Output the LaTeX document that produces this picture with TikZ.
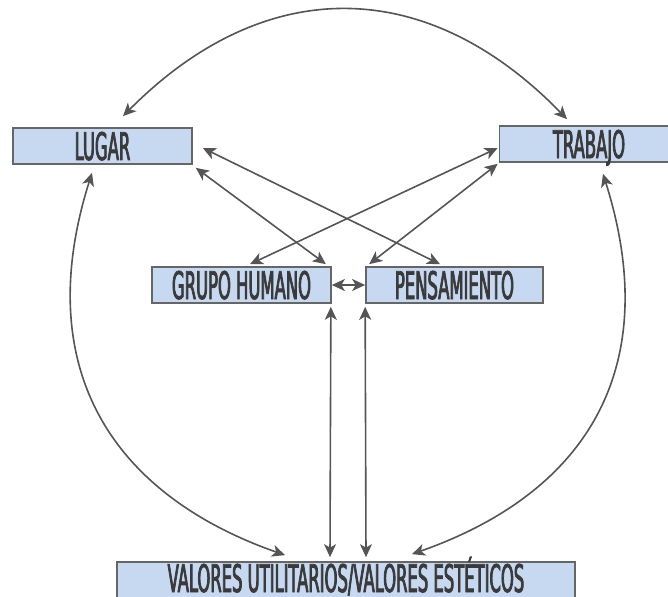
\documentclass[tikz,border=0pt]{standalone}
\usepackage{fontspec}
\setmainfont[FakeStretch=0.48,FakeBold=2]{DejaVu Sans Condensed}
\usetikzlibrary{arrows.meta}
\definecolor{boxfill}{HTML}{C6D9F1}
\definecolor{boxline}{HTML}{666666}
\definecolor{linkcol}{HTML}{555555}
\definecolor{txtcol}{HTML}{3A3A3A}
\begin{document}
\begin{tikzpicture}[x=1pt,y=-1pt,
  conceptbox/.style={draw=boxline, line width=1.7pt, fill=boxfill,
    minimum height=36pt, inner sep=0pt, text=txtcol,
    font=\fontsize{38}{38}\selectfont, text height=28pt, text depth=0pt},
  link/.style={draw=linkcol, line width=1.6pt,
    {Stealth[length=13pt,width=12pt,inset=3.5pt]}-{Stealth[length=13pt,width=12pt,inset=3.5pt]}}]
\useasboundingbox (0,0) rectangle (668,596);

% concept boxes
\node[conceptbox, minimum width=179pt] (lugar) at (102.5,146) {LUGAR};
\node[conceptbox, minimum width=179pt] (trabajo) at (589,144) {TRABAJO};
\node[conceptbox, minimum width=179pt] (grupo) at (241.5,285) {GRUPO HUMANO};
\node[conceptbox, minimum width=177pt] (pensamiento) at (454.5,285) {PENSAMIENTO};
\node[conceptbox, minimum width=458pt, minimum height=38pt, text depth=6pt] (valores) at (346,581)
  {VALORES UTILITARIOS/VALORES ESTÉTICOS};

% outer arcs
\draw[link] ([xshift=20.5pt,yshift=11pt]lugar.north)
  .. controls +(141,-142) and +(-141,-145) .. ([xshift=-22pt,yshift=6pt]trabajo.north);
\draw[link] ([xshift=-10.5pt,yshift=-8pt]lugar.south)
  .. controls +(-60,190) and +(-179,-63) .. ([xshift=-61pt,yshift=6pt]valores.north);
\draw[link] ([xshift=14pt,yshift=-11pt]trabajo.south)
  .. controls +(60,190) and +(179,-63) .. ([xshift=66pt,yshift=7pt]valores.north);

% crossing links
\draw[link] ([xshift=10pt,yshift=-2pt]lugar.east) -- ([xshift=-14.5pt,yshift=2pt]pensamiento.north);
\draw[link] ([xshift=3pt,yshift=-3pt]lugar.south east) -- ([xshift=-6pt,yshift=2pt]grupo.north east);
\draw[link] ([xshift=-1pt,yshift=-4pt]trabajo.west) -- ([xshift=8.5pt,yshift=2pt]grupo.north);
\draw[link] ([xshift=-1pt,yshift=-1pt]trabajo.south west) -- ([xshift=4pt,yshift=2pt]pensamiento.north west);

% middle links
\draw[link] (grupo.east) -- (pensamiento.west);
\draw[link] ([xshift=-1pt,yshift=-3pt]grupo.south east) -- ([xshift=-16pt,yshift=4pt]valores.north);
\draw[link] ([xshift=0pt,yshift=-3pt]pensamiento.south west) -- ([xshift=20pt,yshift=4pt]valores.north);
\end{tikzpicture}
\end{document}
